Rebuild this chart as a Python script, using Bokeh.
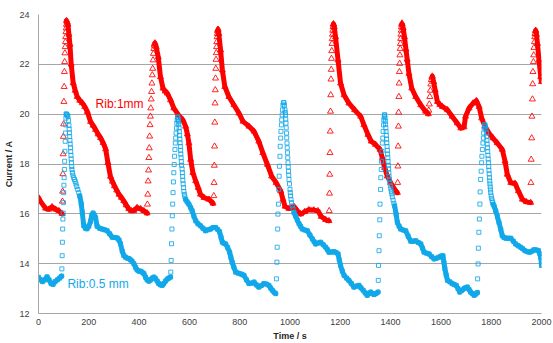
import numpy as np
from bokeh.plotting import figure
from bokeh.models import Range1d, FixedTicker, Label
from bokeh.embed import file_html
from bokeh.resources import INLINE

# ---------------- data ----------------
x_ticks = [0, 200, 400, 600, 800, 1000, 1200, 1400, 1600, 1800, 2000]
y_ticks = [12, 14, 16, 18, 20, 22, 24]

# Rib:1mm  - slow decay parts (time s, current A), one list per cycle
red_decay_t = [
    [0, 8, 28, 41, 54, 68, 81, 94],
    [111, 114, 117, 121, 125, 130, 138, 146, 154, 164, 174, 184, 194, 207, 217, 227, 237, 247, 257, 267,
     276, 286, 294, 302, 311, 320, 330, 339, 349, 359, 369, 379, 392, 406, 419, 432],
    [463, 468, 476, 485, 495, 504, 512, 525, 538, 556, 574, 585, 592, 598, 605, 614, 625, 635, 644, 658, 678, 694],
    [714, 717, 724, 731, 741, 757, 777, 797, 813, 837, 857, 876, 892, 910, 927, 945, 963, 972, 980, 996,
     1016, 1029, 1042, 1058, 1075, 1095, 1111, 1124, 1142, 1155],
    [1173, 1176, 1181, 1191, 1201, 1215, 1234, 1257, 1281, 1294, 1310, 1323, 1340, 1358, 1367, 1376, 1387,
     1400, 1420, 1427],
    [1446, 1450, 1455, 1461, 1466, 1473, 1484, 1500, 1520, 1539, 1550],
    [1566, 1571, 1577, 1586, 1596, 1606, 1626, 1645, 1665, 1679, 1692, 1698, 1712, 1728, 1741, 1752, 1762,
     1775, 1791, 1807, 1824, 1844, 1855, 1864, 1878, 1895, 1908, 1924, 1940, 1957],
    [1977, 1980, 1984, 1990, 1997, 2000],
]
red_decay_v = [
    [16.65, 16.5, 16.22, 16.18, 16.28, 16.18, 16.12, 16.0],
    [23.75, 23.7, 23.6, 23.2, 22.8, 22.0, 21.25, 20.95, 20.7, 20.55, 20.45, 20.3, 20.1, 19.7, 19.55, 19.38,
     19.2, 19.05, 18.85, 18.6, 18.05, 17.5, 17.3, 17.12, 16.95, 16.78, 16.65, 16.52, 16.35, 16.2, 16.12,
     16.12, 16.25, 16.2, 16.12, 16.03],
    [22.85, 22.7, 22.3, 21.5, 21.04, 20.92, 20.84, 20.57, 20.24, 19.97, 19.77, 19.51, 19.2, 18.84, 18.18,
     17.65, 17.32, 17.05, 16.78, 16.65, 16.58, 16.42],
    [23.4, 23.23, 22.57, 21.77, 21.1, 20.7, 20.37, 20.04, 19.71, 19.51, 19.31, 18.91, 18.45, 17.98, 17.51,
     17.25, 16.92, 16.58, 16.3, 16.21, 16.29, 16.12, 15.99, 16.08, 16.16, 16.15, 16.12, 15.89, 15.76, 15.72],
    [23.62, 23.5, 23.1, 22.17, 21.24, 20.77, 20.44, 20.17, 19.91, 19.57, 19.18, 18.91, 18.78, 18.58, 18.25,
     17.85, 17.51, 17.25, 16.92, 16.85],
    [23.62, 23.45, 23.1, 22.6, 22.2, 21.63, 21.04, 20.7, 20.37, 20.11, 20.01],
    [21.52, 21.3, 20.97, 20.5, 20.38, 20.3, 20.17, 19.91, 19.64, 19.44, 19.48, 19.91, 20.24, 20.44, 20.54,
     20.3, 19.84, 19.51, 19.24, 19.04, 18.84, 18.58, 18.11, 17.58, 17.25, 17.22, 16.92, 16.58, 16.48, 16.45],
    [23.36, 23.2, 22.83, 22.17, 21.5, 21.3],
]
# Rib:1mm - fast rises (sparse points)
red_rise_t = [95, 96, 97, 98, 99, 100, 101, 102, 103, 104, 105, 106, 107, 108, 109, 110, 111,
              433, 434.5, 436, 437.5, 439, 440.5, 442, 443.5, 445, 446.5, 448, 449.5, 451, 452.5, 454, 455.5,
              457, 458.5, 460, 461.5,
              697, 698, 699, 700, 701, 702, 703, 704, 705, 706, 707, 708, 709, 710, 711, 712, 713,
              1156, 1157, 1158, 1159, 1160, 1161, 1162, 1163, 1164, 1165, 1166, 1167, 1168, 1169, 1170, 1171, 1172,
              1428, 1429, 1430, 1431, 1432, 1433, 1434, 1435, 1436, 1437, 1438, 1439, 1440, 1441, 1442, 1443, 1444,
              1445,
              1552, 1554, 1556, 1558, 1560, 1562, 1564,
              1958, 1959, 1961, 1962, 1964, 1965, 1966, 1968, 1969, 1970, 1972, 1973, 1974, 1976]
red_rise_v = [16.5, 16.9, 17.6, 18.4, 19.1, 19.6, 20.5, 21.1, 21.7, 22.1, 22.45, 22.7, 22.9, 23.1, 23.3, 23.45,
              23.6,
              16.38, 16.78, 17.31, 17.75, 18.25, 18.64, 19.11, 19.57, 19.91, 20.24, 20.6, 20.9, 21.24, 21.57,
              21.83, 22.17, 22.43, 22.63, 22.76, 22.83,
              16.72, 17.25, 17.94, 18.71, 19.67, 20.44, 20.97, 21.44, 21.83, 22.19, 22.46, 22.7, 22.9, 23.1,
              23.23, 23.34, 23.39,
              16.12, 16.82, 17.58, 18.45, 19.31, 20.11, 20.77, 21.4, 21.79, 22.23, 22.54, 22.83, 23.03, 23.2,
              23.36, 23.5, 23.6,
              17.25, 17.91, 18.71, 19.51, 20.07, 20.7, 21.24, 21.7, 22.03, 22.37, 22.63, 22.83, 23.03, 23.2,
              23.36, 23.5, 23.6, 23.65,
              20.15, 20.4, 20.7, 20.95, 21.2, 21.38, 21.48,
              17.25, 18.18, 19.04, 19.91, 20.6, 21.21, 21.7, 22.1, 22.37, 22.67, 22.9, 23.1, 23.23, 23.34]

# Rib:0.5 mm - slow decay parts (dense)
blue_decay_t = [
    [0, 8, 16, 25, 34, 42, 50, 58, 66, 75, 84, 92],
    [164, 170, 174, 180, 187, 193, 200, 207, 212, 217, 222, 227, 233, 243, 253, 263, 273, 283, 293, 303, 313,
     320, 326, 333, 339, 346, 353, 360, 366, 372, 379, 386, 392, 399, 406, 412, 419, 426, 432, 439, 446, 452,
     459, 465, 472, 478, 485, 492, 498, 505, 512, 518, 525],
    [585, 591, 598, 605, 611, 618, 625, 634, 644, 654, 664, 674, 684, 694, 704, 712, 720, 726, 731, 737, 744,
     752, 760, 765, 770, 777, 784, 794, 804, 810, 817, 827, 837, 847, 857, 866, 876, 886, 896, 906, 916, 923,
     930, 937, 943],
    [1016, 1022, 1029, 1036, 1042, 1049, 1059, 1069, 1079, 1089, 1096, 1102, 1112, 1122, 1132, 1142, 1149,
     1155, 1165, 1175, 1183, 1191, 1196, 1201, 1208, 1215, 1225, 1234, 1244, 1254, 1264, 1274, 1282, 1291,
     1299, 1307, 1314, 1321, 1328, 1334, 1342, 1350],
    [1416, 1422, 1427, 1434, 1440, 1450, 1460, 1470, 1480, 1490, 1500, 1510, 1520, 1527, 1533, 1543, 1553,
     1563, 1573, 1583, 1592, 1600, 1608, 1612, 1616, 1621, 1626, 1636, 1645, 1653, 1661, 1668, 1675, 1684,
     1692, 1698, 1705, 1712, 1718, 1725, 1732, 1739, 1745],
    [1808, 1812, 1818, 1825, 1831, 1838, 1844, 1851, 1858, 1868, 1878, 1888, 1897, 1907, 1917, 1925, 1934,
     1944, 1953, 1962, 1970, 1979, 1988, 1993, 1997, 2000],
]
blue_decay_v = [
    [13.45, 13.35, 13.28, 13.35, 13.47, 13.35, 13.2, 13.17, 13.28, 13.35, 13.42, 13.5],
    [16.72, 16.4, 16.05, 15.52, 15.42, 15.4, 15.5, 15.7, 15.95, 16.03, 15.95, 15.85, 15.5, 15.42, 15.39,
     15.36, 15.32, 15.2, 15.06, 15.05, 15.03, 14.95, 14.8, 14.5, 14.33, 14.26, 14.22, 14.2, 14.15, 14.1, 14.0,
     13.85, 13.75, 13.7, 13.7, 13.66, 13.6, 13.45, 13.35, 13.3, 13.35, 13.42, 13.46, 13.4, 13.3, 13.2, 13.15,
     13.13, 13.2, 13.3, 13.38, 13.42, 13.46],
    [16.58, 16.48, 16.39, 16.25, 16.12, 15.9, 15.72, 15.6, 15.52, 15.42, 15.32, 15.36, 15.39, 15.45, 15.45,
     15.38, 15.28, 15.05, 14.86, 14.82, 14.79, 14.65, 14.46, 14.25, 14.06, 13.85, 13.66, 13.62, 13.59, 13.56,
     13.53, 13.35, 13.2, 13.22, 13.26, 13.15, 13.06, 13.12, 13.2, 13.18, 13.13, 13.02, 12.93, 12.85, 12.8],
    [16.05, 15.92, 15.75, 15.6, 15.5, 15.39, 15.35, 15.32, 15.15, 14.99, 14.88, 14.79, 14.83, 14.86, 14.76,
     14.66, 14.56, 14.46, 14.47, 14.48, 14.45, 14.39, 14.15, 13.93, 13.7, 13.53, 13.42, 13.33, 13.2, 13.06,
     13.1, 13.13, 13.03, 12.93, 12.83, 12.73, 12.8, 12.86, 12.8, 12.76, 12.8, 12.86],
    [16.32, 15.98, 15.65, 15.5, 15.39, 15.35, 15.32, 15.1, 14.9, 14.9, 14.92, 14.85, 14.79, 14.62, 14.46,
     14.42, 14.39, 14.28, 14.19, 14.22, 14.26, 14.3, 14.32, 14.05, 13.79, 13.55, 13.33, 13.27, 13.2, 13.16,
     13.13, 13.0, 12.86, 12.93, 13.0, 13.03, 13.06, 12.96, 12.86, 12.8, 12.73, 12.78, 12.84],
    [16.38, 16.3, 16.12, 15.88, 15.65, 15.38, 15.12, 15.05, 15.02, 15.02, 15.02, 14.9, 14.79, 14.72, 14.66,
     14.6, 14.52, 14.48, 14.46, 14.5, 14.56, 14.55, 14.52, 14.4, 14.26, 13.93],
]
# Rib:0.5 mm - steep falls right after each peak (sparse points)
blue_fall_t = [111, 113, 115, 117, 119, 121, 122, 123, 124, 125, 126, 127, 128, 129, 130, 131, 132, 133, 135,
               137, 140, 143, 146, 149, 152, 156, 160,
               554, 556, 557, 558, 559, 560, 561, 562, 563, 564, 565, 566, 567, 568, 569, 571, 572, 573, 574,
               575, 577, 578, 580, 582,
               976, 978, 980, 981, 982, 983, 984, 985, 986, 987, 988, 989, 990, 991, 992, 993, 994, 995, 996,
               998, 1000, 1001, 1002, 1004, 1006, 1009, 1012,
               1376, 1378, 1379, 1380, 1381, 1382, 1383, 1384, 1385, 1386, 1387, 1388, 1389, 1390, 1391, 1392,
               1393, 1394, 1395, 1397, 1399, 1401, 1403, 1405, 1407, 1410, 1413,
               1775, 1777, 1779, 1781, 1782, 1783, 1784, 1785, 1786, 1787, 1788, 1789, 1790, 1791, 1792, 1793,
               1794, 1795, 1796, 1797, 1798, 1800, 1802, 1804, 1806]
blue_fall_v = [20.0, 19.98, 19.95, 19.9, 19.75, 19.55, 19.4, 19.25, 19.1, 18.95, 18.8, 18.65, 18.5, 18.35,
               18.2, 18.05, 17.9, 17.78, 17.65, 17.55, 17.45, 17.38, 17.3, 17.2, 17.1, 16.98, 16.85,
               19.88, 19.8, 19.7, 19.6, 19.45, 19.3, 19.15, 19.0, 18.85, 18.7, 18.55, 18.4, 18.25, 18.1, 17.95,
               17.8, 17.65, 17.5, 17.35, 17.2, 17.05, 16.9, 16.78, 16.68,
               20.46, 20.35, 20.17, 20.07, 19.97, 19.8, 19.64, 19.45, 19.24, 19.05, 18.84, 18.65, 18.45, 18.25,
               18.05, 17.88, 17.71, 17.55, 17.38, 17.2, 16.98, 16.85, 16.72, 16.58, 16.45, 16.32, 16.2,
               19.97, 19.85, 19.72, 19.6, 19.45, 19.3, 19.15, 19.0, 18.85, 18.7, 18.55, 18.4, 18.25, 18.1,
               17.95, 17.8, 17.65, 17.5, 17.38, 17.25, 17.12, 17.0, 16.9, 16.8, 16.68, 16.55, 16.42,
               19.57, 19.5, 19.4, 19.25, 19.11, 18.95, 18.8, 18.65, 18.5, 18.35, 18.2, 18.05, 17.9, 17.75, 17.6,
               17.45, 17.32, 17.2, 17.08, 16.96, 16.85, 16.72, 16.62, 16.52, 16.45]
# Rib:0.5 mm - fast rises (sparse points)
blue_rise_t = [93, 94, 95, 96, 97, 98, 99, 100, 101, 102, 103, 104, 105, 106, 107, 108, 109, 110,
               526, 527.5, 529, 530.5, 532, 533.5, 535, 536.5, 538, 539.5, 541, 542.5, 544, 545.5, 547, 548.5,
               550, 551.5, 553,
               946, 948, 949, 951, 952, 954, 955, 957, 958, 960, 961, 963, 964, 966, 967, 969, 970, 972, 974,
               1351, 1352, 1354, 1355, 1357, 1358, 1360, 1361, 1363, 1364, 1366, 1367, 1369, 1370, 1372, 1373,
               1375, 1376,
               1746, 1748, 1749, 1751, 1753, 1755, 1756, 1758, 1760, 1762, 1763, 1765, 1767, 1769, 1770, 1772,
               1774]
blue_rise_v = [13.79, 14.32, 14.86, 15.39, 15.79, 16.03, 16.45, 16.85, 17.15, 17.45, 17.78, 18.11, 18.51,
               18.91, 19.24, 19.57, 19.84, 20.01,
               13.66, 14.13, 14.8, 15.39, 15.92, 16.39, 16.85, 17.28, 17.65, 17.98, 18.31, 18.58, 18.84, 19.04,
               19.24, 19.44, 19.64, 19.77, 19.88,
               13.39, 14.06, 14.66, 15.39, 15.99, 16.39, 16.98, 17.51, 17.91, 18.31, 18.71, 19.04, 19.31, 19.57,
               19.77, 19.97, 20.17, 20.37, 20.46,
               13.33, 13.93, 14.52, 15.12, 15.76, 16.39, 16.98, 17.45, 17.78, 18.11, 18.51, 18.84, 19.04, 19.31,
               19.57, 19.77, 19.91, 19.97,
               13.39, 13.99, 14.62, 15.26, 15.79, 16.39, 16.88, 17.38, 17.71, 18.05, 18.31, 18.58, 18.84, 19.04,
               19.24, 19.44, 19.57]

RED = "#ff0000"
BLUE = "#12a8ea"
FONT = "Liberation Sans"

# ---------------- figure ----------------
p = figure(width=553, height=343, x_range=Range1d(0, 2000), y_range=Range1d(12, 24),
           output_backend="svg", toolbar_location=None,
           min_border_left=38, min_border_right=12, min_border_top=14, min_border_bottom=28)
p.outline_line_color = None
p.background_fill_color = "white"
p.border_fill_color = "white"

p.xgrid.visible = False
p.ygrid.ticker = FixedTicker(ticks=y_ticks)
p.ygrid.grid_line_color = "#a6a6a6"
p.ygrid.grid_line_width = 1

for ax, ticks in ((p.xaxis, x_ticks), (p.yaxis, y_ticks)):
    ax.ticker = FixedTicker(ticks=ticks)
    ax.major_tick_in = 0
    ax.major_tick_out = 0
    ax.minor_tick_in = 0
    ax.minor_tick_out = 0
    ax.axis_line_color = "#a6a6a6"
    ax.major_label_text_font = FONT
    ax.major_label_text_font_size = "9px"
    ax.major_label_text_color = "#404040"
    ax.axis_label_text_font = FONT
    ax.axis_label_text_font_size = "9px"
    ax.axis_label_text_font_style = "bold"
    ax.axis_label_text_color = "#262626"

p.xaxis.axis_label = "Time / s"
p.yaxis.axis_label = "Current / A"
p.xaxis.major_label_standoff = 5
p.xaxis.axis_label_standoff = 3
p.yaxis.major_label_standoff = 9
p.yaxis.axis_label_standoff = 2

# red series
p.multi_line(xs=red_decay_t, ys=red_decay_v, line_color=RED, line_width=5,
             line_cap="round", line_join="round")
rt = [t for seg in red_decay_t for t in seg] + red_rise_t
rv = [v for seg in red_decay_v for v in seg] + red_rise_v
p.scatter(rt, rv, marker="triangle", size=6, fill_color=None, line_color=RED, line_width=1, line_alpha=0.85)

# blue series
p.multi_line(xs=blue_decay_t, ys=blue_decay_v, line_color=BLUE, line_width=5,
             line_cap="round", line_join="round")
bt = [t for seg in blue_decay_t for t in seg]
bv = [v for seg in blue_decay_v for v in seg]
p.scatter(bt, bv, marker="square", size=4, fill_color=None, line_color=BLUE, line_width=1, line_alpha=0.9)
p.scatter(blue_fall_t + blue_rise_t, blue_fall_v + blue_rise_v, marker="square", size=4,
          fill_color=None, line_color=BLUE, line_width=1, line_alpha=0.85)

# series labels
p.add_layout(Label(x=227, y=20.4, text="Rib:1mm", text_color=RED, text_font=FONT,
                   text_font_size="12px", text_baseline="middle"))
p.add_layout(Label(x=115, y=13.2, text="Rib:0.5 mm", text_color=BLUE, text_font=FONT,
                   text_font_size="12px", text_baseline="middle"))

open("out.html", "w").write(file_html(p, INLINE))
